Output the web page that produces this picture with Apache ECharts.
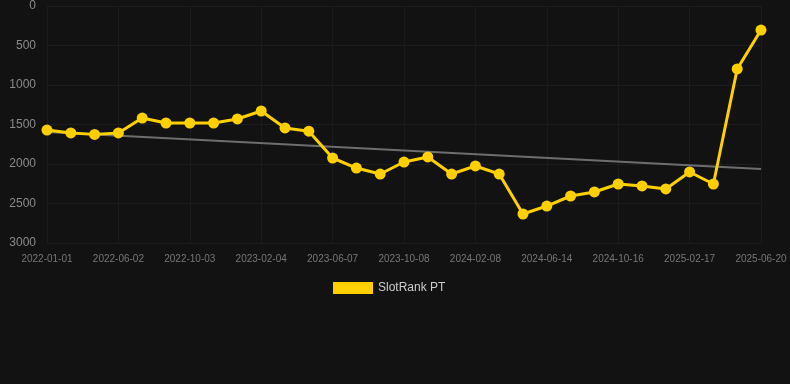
<!DOCTYPE html>
<html>
<head>
<meta charset="utf-8">
<script src="https://cdn.jsdelivr.net/npm/echarts@6/dist/echarts.min.js"></script>
<style>
html,body{margin:0;padding:0;background:#121212;}
#chart{width:790px;height:384px;}
</style>
</head>
<body>
<div id="chart"></div>
<script>
const categories = [
  '2022-01-01','2022-02-21','2022-04-12','2022-06-02','2022-07-13','2022-08-23',
  '2022-10-03','2022-11-13','2022-12-25','2023-02-04','2023-03-17','2023-04-27',
  '2023-06-07','2023-07-18','2023-08-28','2023-10-08','2023-11-18','2023-12-29',
  '2024-02-08','2024-03-20','2024-05-01','2024-06-14','2024-07-25','2024-09-04',
  '2024-10-16','2024-11-26','2025-01-06','2025-02-17','2025-03-30','2025-05-10',
  '2025-06-20'
];
const rankValues = [
  1570,1607,1625,1607,1418,1481,1481,1481,1430,1329,1544,1585,
  1924,2051,2127,1975,1911,2127,2025,2127,2633,2532,2405,2354,
  2253,2278,2316,2101,2253,797,304
];
const trendStart = 1595;
const trendEnd = 2063;
const yTicks = { min: 0, max: 3000, interval: 500 };

const chart = echarts.init(document.getElementById('chart'));
chart.setOption({
  backgroundColor: '#121212',
  animation: false,
  grid: { left: 47, right: 29, top: 6, bottom: 141, containLabel: false },
  legend: {
    data: ['SlotRank PT'],
    top: 277,
    left: 328,
    icon: 'rect',
    itemWidth: 40,
    itemHeight: 12,
    itemGap: 10,
    textStyle: { color: '#cccccc', fontSize: 12, fontFamily: 'Arial, Liberation Sans, sans-serif' }
  },
  xAxis: {
    type: 'category',
    data: categories,
    boundaryGap: false,
    axisLine: { show: false },
    axisTick: { show: false },
    axisLabel: { interval: 2, color: '#777777', fontSize: 10, margin: 11, fontFamily: 'Arial, Liberation Sans, sans-serif' },
    splitLine: { show: true, interval: 2, lineStyle: { color: '#1b1b1b', width: 1 } }
  },
  yAxis: {
    type: 'value',
    inverse: true,
    min: yTicks.min,
    max: yTicks.max,
    interval: yTicks.interval,
    axisLine: { show: false },
    axisTick: { show: false },
    axisLabel: { color: '#8a8a8a', fontSize: 12, margin: 11, formatter: v => String(v), fontFamily: 'Arial, Liberation Sans, sans-serif' },
    splitLine: { show: true, lineStyle: { color: '#1d1d1d', width: 1 } }
  },
  series: [
    {
      name: 'Trend',
      type: 'line',
      data: [[categories[0], trendStart], [categories[categories.length - 1], trendEnd]],
      showSymbol: false,
      symbol: 'none',
      lineStyle: { color: '#6e6e6e', width: 2 },
      z: 1,
      silent: true
    },
    {
      name: 'SlotRank PT',
      type: 'line',
      data: rankValues,
      symbol: 'circle',
      symbolSize: 11,
      itemStyle: { color: '#FFD000' },
      lineStyle: { color: '#FFD000', width: 3 },
      z: 2
    }
  ]
});
</script>
</body>
</html>
